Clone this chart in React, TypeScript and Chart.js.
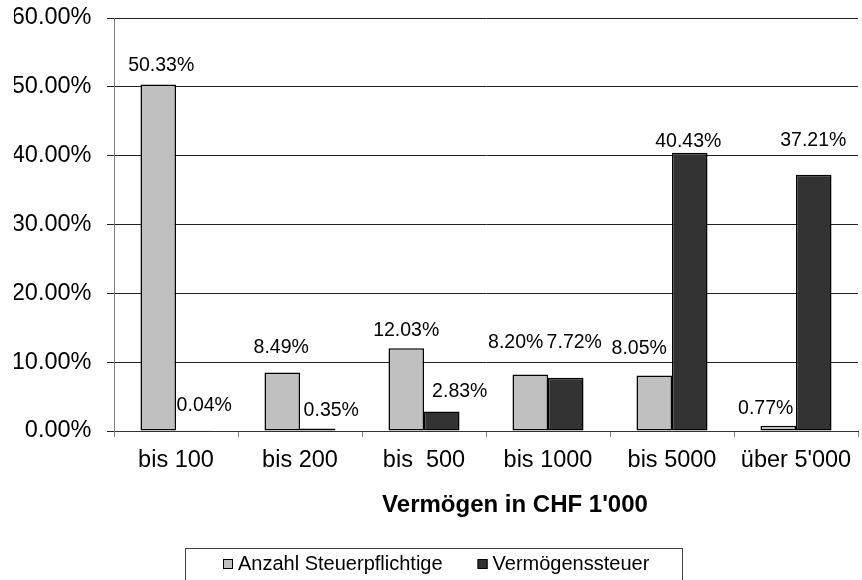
import React, { useEffect, useRef } from "react";
import { Chart, registerables } from "chart.js";

Chart.register(...registerables);

const categories = ["bis 100", "bis 200", "bis  500", "bis 1000", "bis 5000", "über 5'000"];
const anzahlSteuerpflichtige = [50.33, 8.49, 12.03, 8.2, 8.05, 0.77];
const vermoegenssteuer = [0.04, 0.35, 2.83, 7.72, 40.43, 37.21];
const yTickValues = [0, 10, 20, 30, 40, 50, 60];
const seriesNames = ["Anzahl Steuerpflichtige", "Vermögenssteuer"];
const axisTitle = "Vermögen in CHF 1'000";

const FONT = "'Liberation Sans', Arial, Helvetica, sans-serif";
const LIGHT = "#C0C0C0";
const DARK = "#333333";

// label placement tweaks (pixels, relative to each bar's top centre), mimicking the reference
const labelShift: number[][][] = [
  [[3, -19], [-1, -24.5], [0, -18], [-14.5, -31.5], [-15, -26.5], [-12.5, -17]],
  [[10.5, -25.5], [13.5, -17.5], [18, -19.5], [8.5, -35], [-1.5, -11.5], [-0.5, -34]],
];

const dataLabelPlugin = {
  id: "dataLabels",
  afterDatasetsDraw(chart: any) {
    const ctx = chart.ctx;
    ctx.save();
    ctx.font = `19.5px ${FONT}`;
    ctx.fillStyle = "#000";
    ctx.textAlign = "center";
    ctx.textBaseline = "middle";
    chart.data.datasets.forEach((ds: any, di: number) => {
      const meta = chart.getDatasetMeta(di);
      meta.data.forEach((el: any, i: number) => {
        const v = ds.data[i] as number;
        const [dx, dy] = labelShift[di][i];
        ctx.fillText(v.toFixed(2) + "%", el.x + dx, el.y + dy);
      });
    });
    ctx.restore();
  },
};

const axisTitlePlugin = {
  id: "axisTitle",
  afterDraw(chart: any) {
    const ctx = chart.ctx;
    const area = chart.chartArea;
    ctx.save();
    ctx.font = `bold 24px ${FONT}`;
    ctx.fillStyle = "#000";
    ctx.textAlign = "center";
    ctx.textBaseline = "middle";
    ctx.fillText(axisTitle, (area.left + area.right) / 2 + 29, area.bottom + 74);
    ctx.restore();
  },
};

const boxLegendPlugin = {
  id: "boxLegend",
  afterDraw(chart: any) {
    const ctx = chart.ctx;
    ctx.save();
    ctx.strokeStyle = "#404040";
    ctx.lineWidth = 1;
    ctx.strokeRect(185.5, 548.5, 497, 60);
    ctx.font = `20px ${FONT}`;
    const items = chart.data.datasets.map((ds: any) => ({ text: ds.label, color: ds.backgroundColor }));
    const box = 10;
    const gapBox = 5;
    const gapItems = 35;
    const widths = items.map((it: any) => box + gapBox + ctx.measureText(it.text).width);
    const total = widths.reduce((a: number, b: number) => a + b, 0) + gapItems * (items.length - 1);
    let x = Math.round(436 - total / 2);
    const cy = 564;
    items.forEach((it: any, i: number) => {
      ctx.fillStyle = it.color;
      ctx.fillRect(x, cy - 5, box, box);
      ctx.strokeStyle = "#000";
      ctx.strokeRect(x + 0.5, cy - 4.5, box - 1, box - 1);
      ctx.fillStyle = "#000";
      ctx.textAlign = "left";
      ctx.textBaseline = "middle";
      ctx.fillText(it.text, x + box + gapBox, cy);
      x += widths[i] + gapItems;
    });
    ctx.restore();
  },
};

export default function App() {
  const ref = useRef<HTMLCanvasElement | null>(null);

  useEffect(() => {
    if (!ref.current) return;
    const chart = new Chart(ref.current, {
      type: "bar",
      data: {
        labels: categories,
        datasets: [
          {
            label: seriesNames[0],
            data: anzahlSteuerpflichtige,
            backgroundColor: LIGHT,
            borderColor: "#000",
            borderWidth: 1.5,
            borderSkipped: false,
            categoryPercentage: 0.573,
            barPercentage: 1,
          },
          {
            label: seriesNames[1],
            data: vermoegenssteuer,
            backgroundColor: DARK,
            borderColor: "#000",
            borderWidth: 1.5,
            borderSkipped: false,
            categoryPercentage: 0.573,
            barPercentage: 1,
          },
        ],
      },
      options: {
        animation: false,
        responsive: false,
        devicePixelRatio: 1,
        layout: { padding: { left: 14, right: 4, top: 18, bottom: 49 } },
        plugins: {
          legend: { display: false },
          tooltip: { enabled: false },
          title: { display: false },
        },
        scales: {
          x: {
            grid: {
              offset: true,
              drawOnChartArea: false,
              drawTicks: true,
              tickLength: 6,
              color: "#808080",
            },
            border: { display: true, color: "#333" },
            ticks: {
              font: { family: FONT, size: 23.5 },
              color: "#000",
              padding: 9,
              maxRotation: 0,
              autoSkip: false,
            },
            title: { display: false },
            afterFit: (s: any) => {
              s.height = 100;
              s.paddingLeft = 0;
              s.paddingRight = 0;
            },
          },
          y: {
            min: 0,
            max: 60,
            afterBuildTicks: (s: any) => {
              s.ticks = yTickValues.map((v) => ({ value: v }));
            },
            ticks: {
              font: { family: FONT, size: 23.5 },
              color: "#000",
              padding: 15.5,
              callback: (v: any) => Number(v).toFixed(2) + "%",
            },
            grid: { color: "#222", tickLength: 7, lineWidth: 1 },
            border: { display: true, color: "#808080" },
            afterFit: (s: any) => {
              s.width = 100;
              s.paddingTop = 0;
              s.paddingBottom = 0;
            },
          },
        },
      },
      plugins: [dataLabelPlugin, axisTitlePlugin, boxLegendPlugin],
    });
    return () => chart.destroy();
  }, []);

  return (
    <div style={{ position: "fixed", left: 0, top: 0, width: 862, height: 580, background: "#fff", overflow: "hidden" }}>
      <canvas ref={ref} width={862} height={580} style={{ display: "block", width: 862, height: 580 }} />
    </div>
  );
}
